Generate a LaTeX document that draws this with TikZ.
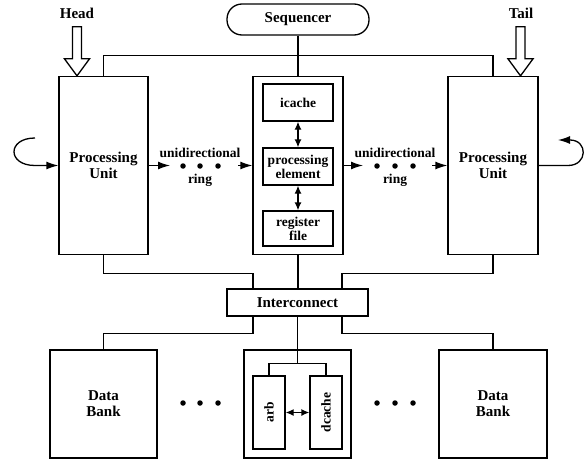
\documentclass[tikz,border=0pt]{standalone}
\usepackage{fontspec}
\setmainfont{Liberation Serif}
\usetikzlibrary{positioning}
\usetikzlibrary{arrows.meta}

\begin{document}
\begin{tikzpicture}[x=1pt,y=-1pt,>={Latex[length=12pt,width=8pt]},
  box/.style={draw,line width=1.3pt,inner sep=0pt,align=center,font=\bfseries\fontsize{15}{16}\selectfont},
  inbox/.style={box,font=\bfseries\fontsize{13.5}{14}\selectfont},
  wire/.style={line width=1.3pt},
  short/.style={wire,{Latex[length=8pt,width=7pt]}-{Latex[length=8pt,width=7pt]}},
  dot/.style={circle,fill,inner sep=0pt,minimum size=5.5pt},
  lbl/.style={font=\bfseries\fontsize{13.5}{14}\selectfont},
  biglbl/.style={font=\bfseries\fontsize{15}{16}\selectfont}]
\useasboundingbox (0,0) rectangle (584,460);

\node[box,rounded corners=15pt,minimum width=142,minimum height=31] (seq) at (298,19.5) {Sequencer};
\node[box,minimum width=89,minimum height=178] (lpu) at (103.5,165.5) {Processing\\Unit};
\node[box,minimum width=90,minimum height=178] (cpu) at (298,165.5) {};
\node[box,minimum width=90,minimum height=178] (rpu) at (493,165.5) {Processing\\Unit};
\node[inbox,minimum width=70,minimum height=37] (icache) at (298,102.5) {icache};
\node[inbox,minimum width=70,minimum height=37] (pe) at (298,166.5) {processing\\element};
\node[inbox,minimum width=70,minimum height=35] (rf) at (298,228.5) {register\\file};

\node[box,minimum width=141,minimum height=27] (ic) at (297.5,302.5) {Interconnect};
\node[box,minimum width=107,minimum height=108] (ldb) at (103.5,404) {Data\\Bank};
\node[box,minimum width=107,minimum height=108] (mem) at (297.5,404) {};
\node[box,minimum width=108,minimum height=108] (rdb) at (493,404) {Data\\Bank};
\node[inbox,minimum width=32,minimum height=73] (arb) at (269,412.5) {\rotatebox{90}{arb}};
\node[inbox,minimum width=32,minimum height=73] (dc) at (326,412.5) {\rotatebox{90}{dcache}};

\node[biglbl] (head) at (77,13) {Head};
\node[biglbl] (tail) at (521,13) {Tail};
\draw[wire,fill=white] ([xshift=-26.5pt]lpu.north) -- ++(-12.5,-17) -- ++(8,0) -- ++(0,-32)
  -- ++(9,0) -- ++(0,32) -- ++(8,0) -- cycle;
\draw[wire,fill=white] ([xshift=27.5pt]rpu.north) -- ++(-12.5,-17) -- ++(8,0) -- ++(0,-32)
  -- ++(9,0) -- ++(0,32) -- ++(8,0) -- cycle;

\draw[wire] (lpu.north) -- ++(0,-20) -| (rpu.north);
\draw[wire] (seq) -- (cpu);
\draw[short] (icache) -- (pe);
\draw[short] (pe) -- (rf);

\coordinate (lin) at (35,138);
\draw[wire,->] (lin) .. controls (7,138) and (7,165.5) .. (35,165.5) -- (lpu.west);
\coordinate (rout) at (558,140);
\draw[wire,->] (rpu.east) -- (568,165.5) .. controls (588,165.5) and (588,140) .. (570,140) -- (rout);

\coordinate (la) at (170,165.5);
\coordinate (lb) at (238,165.5);
\draw[wire,->] (lpu.east) -- (la);
\draw[wire,->] (lb) -- (cpu.west);
\node[dot] (ld1) at (183,166) {};
\node[dot] (ld2) at (200,166) {};
\node[dot] (ld3) at (218,166) {};
\node[lbl] at (200,153) {unidirectional};
\node[lbl] at (200,180) {ring};

\coordinate (ra) at (363,165.5);
\coordinate (rb) at (432,165.5);
\draw[wire,->] (cpu.east) -- (ra);
\draw[wire,->] (rb) -- (rpu.west);
\node[dot] (rd1) at (377,166) {};
\node[dot] (rd2) at (395,166) {};
\node[dot] (rd3) at (413,166) {};
\node[lbl] at (395,153) {unidirectional};
\node[lbl] at (395,180) {ring};

\draw[wire] (cpu.south) -- (cpu.south |- ic.north);
\draw[wire] (lpu.south) -- ++(0,18) -| ([xshift=-44.5pt]ic.north);
\draw[wire] (rpu.south) -- ++(0,18) -| ([xshift=44.5pt]ic.north);
\draw[wire] ([xshift=-44.5pt]ic.south) -- ++(0,17) -| (ldb.north);
\draw[wire] ([xshift=44.5pt]ic.south) -- ++(0,17) -| (rdb.north);
\draw[wire] (ic.south) -- ++(0,47) coordinate (br);
\draw[wire] (arb.north) |- (br) -| (dc.north);
\draw[short] (arb) -- (dc);

\node[dot] (bd1) at (183,403) {};
\node[dot] (bd2) at (200,403) {};
\node[dot] (bd3) at (218,403) {};
\node[dot] (bd4) at (377,403) {};
\node[dot] (bd5) at (395,403) {};
\node[dot] (bd6) at (413,403) {};
\end{tikzpicture}
\end{document}
